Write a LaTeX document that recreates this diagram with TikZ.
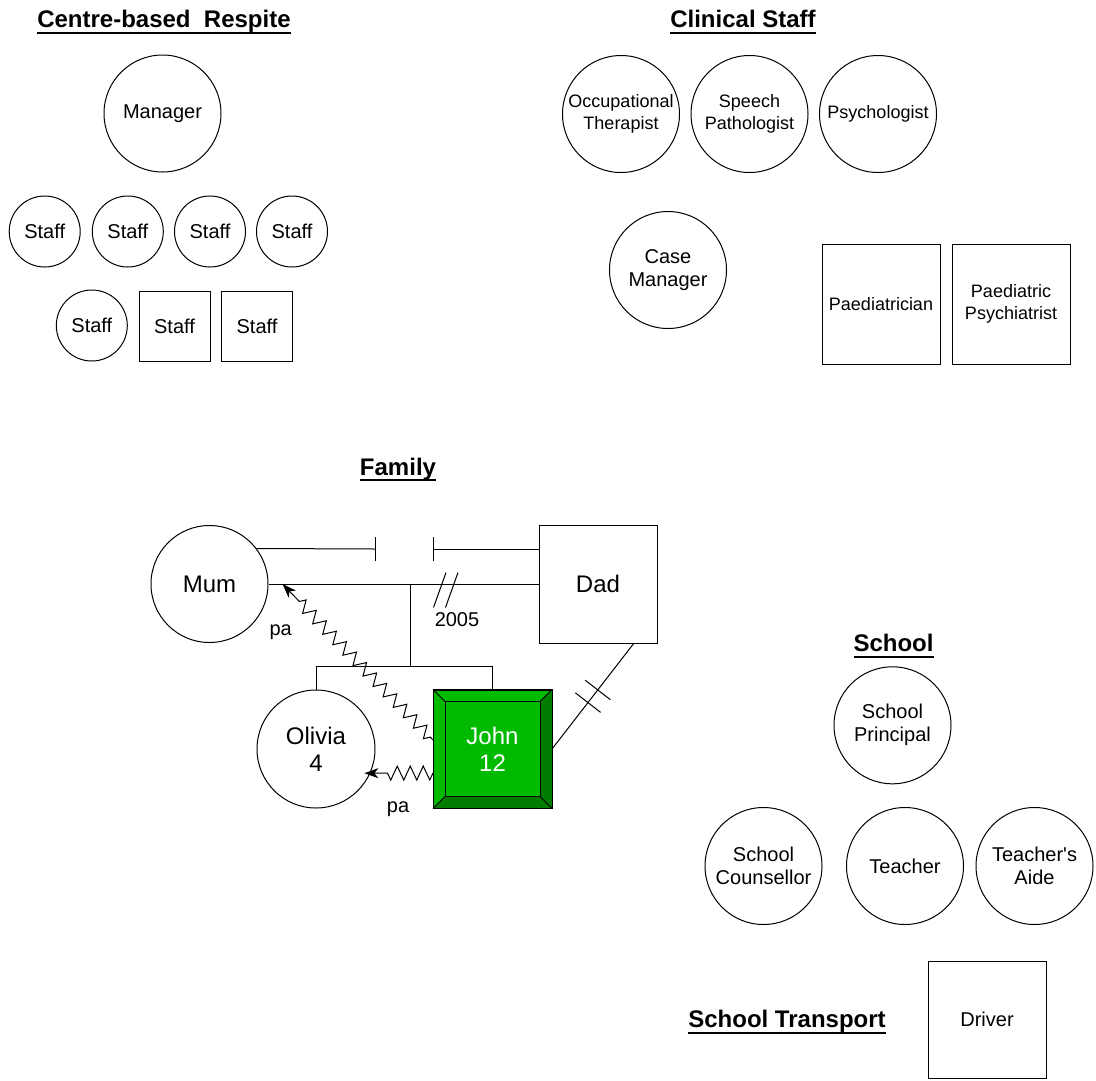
\documentclass[tikz,border=0pt]{standalone}
\usepackage{fontspec}
\setmainfont{Liberation Sans}
\usetikzlibrary{arrows.meta,calc,decorations.pathmorphing,decorations.markings}

\definecolor{johngreen}{RGB}{0,186,0}
\definecolor{johnshade}{RGB}{0,125,0}

% underlined group heading
\newcommand{\grouptitle}[1]{\setbox0\hbox{#1}\rlap{\rule[-6pt]{\wd0}{2pt}}\box0}

\begin{document}
\begin{tikzpicture}[x=1pt, y=-1pt, line width=1pt,
    every node/.style={inner sep=0pt, align=center, font=\fontsize{20}{23}\selectfont},
    grouphead/.style={anchor=base, font=\fontsize{24}{28}\selectfont\bfseries},
    role/.style={draw, circle, minimum size=117pt},
    roleb/.style={draw, minimum width=118pt, minimum height=118pt},
    staffc/.style={draw, circle, minimum size=71pt},
    staffs/.style={draw, minimum width=71pt, minimum height=70pt},
    clin/.style={font=\fontsize{18}{22}\selectfont},
    fam/.style={font=\fontsize{24}{27}\selectfont},
    abuse/.style={decorate, decoration={zigzag, segment length=14.5pt, amplitude=6pt,
        pre length=4pt, post length=22pt}, -{Stealth[length=14pt,width=10pt,inset=4pt]}},
    cutoff/.style={postaction={decorate}, decoration={markings,
        mark=at position 0.44 with {\draw (0pt,-16pt) -- (0pt,16pt);},
        mark=at position 0.56 with {\draw (0pt,-16pt) -- (0pt,16pt);}}}]
    \useasboundingbox (0,0) rectangle (1096,1080);

    % Centre-based Respite
    \node[grouphead] (respite) at (164,27.5) {\grouptitle{Centre-based\ \ Respite}};
    \node[role] (manager) at (162.5,113.5) {Manager};
    \foreach \x [count=\i] in {44.7,127.8,210,292}
      \node[staffc] (staff\i) at (\x,231.5) {Staff};
    \node[staffc] (staff5) at (91.8,325.5) {Staff};
    \node[staffs] (staff6) at (174.5,326) {Staff};
    \node[staffs] (staff7) at (257,326) {Staff};

    % Clinical Staff
    \node[grouphead] (clinical) at (743,27.5) {\grouptitle{Clinical Staff}};
    \node[role, clin] (ot) at (621,114) {Occupational\\Therapist};
    \node[role, clin] (speech) at (749.5,114) {Speech\\Pathologist};
    \node[role, clin] (psych) at (878,114) {Psychologist};
    \node[role] (casemgr) at (668,270) {Case\\Manager};
    \node[roleb, clin, minimum height=120pt] (paed) at (881,304) {Paediatrician};
    \node[roleb, clin, minimum height=120pt] (psychiatrist) at (1011,304) {Paediatric\\Psychiatrist};

    % Family
    \node[grouphead] (family) at (398,475) {\grouptitle{Family}};
    \node[role, fam] (mum) at (209.5,584) {Mum};
    \node[roleb, fam] (dad) at (598,584) {Dad};
    \node[role, fam, minimum size=118pt] (olivia) at (316,749) {Olivia\\4};
    \node[roleb, fam, fill=johngreen, text=white] (john) at (492.5,749) {John\\12};
    \fill[johnshade] (john.north east) -- (john.south east) -- (john.south west)
      -- ([shift={(12pt,12pt)}]john.south west) -- ([shift={(-12pt,12pt)}]john.south east)
      -- ([shift={(-12pt,-12pt)}]john.north east) -- cycle;
    \draw (john.north west) rectangle (john.south east);
    \draw ([shift={(12pt,-12pt)}]john.north west) rectangle ([shift={(-12pt,12pt)}]john.south east);
    \draw (john.north west) -- ++(12pt,-12pt);
    \draw (john.north east) -- ++(-12pt,-12pt);
    \draw (john.south west) -- ++(12pt,12pt);
    \draw (john.south east) -- ++(-12pt,12pt);

    % separated
    \coordinate (sepL) at (375,549);
    \coordinate (sepR) at (433,549);
    \draw (mum.37) -- (sepL);
    \draw (sepR) -- (sepR -| dad.west);
    \draw ([yshift=12pt]sepL) -- ([yshift=-12pt]sepL);
    \draw ([yshift=12pt]sepR) -- ([yshift=-12pt]sepR);

    % married, divorced 2005
    \draw (mum.east) -- (dad.west);
    \coordinate (div) at (445.5,590);
    \draw ([shift={(-12pt,-17.5pt)}]div) -- ++(12.5pt,35pt);
    \draw ([shift={(0pt,-17.5pt)}]div) -- ++(12.5pt,35pt);
    \node (year) at (457,620) {2005};

    % children
    \coordinate (kids) at (410,666);
    \draw (kids) -- (kids |- mum.east);
    \draw (olivia.north) |- (kids) -| (john.north);

    % cut off
    \draw[cutoff] ($(dad.south east)!0.4!(dad.south)$) -- (john.east);

    % physical abuse
    \draw[abuse] ([yshift=9pt]john.west) -- ([xshift=14pt]mum.east);
    \node (pa1) at (280.7,631.7) {pa};
    \draw[abuse, decoration={segment length=13pt, amplitude=7pt, pre length=0pt, post length=23pt}]
      ([yshift=-24pt]john.west) -- ([xshift=-6pt]olivia.-24);
    \node (pa2) at (398,809) {pa};

    % School
    \node[grouphead] (school) at (893.5,651.7) {\grouptitle{School}};
    \node[role] (principal) at (892.5,725.3) {School\\Principal};
    \node[role] (counsellor) at (763.5,866) {School\\Counsellor};
    \node[role] (teacher) at (905,866) {Teacher};
    \node[role] (aide) at (1034.5,866) {Teacher\textquotesingle s\\Aide};

    % School Transport
    \node[grouphead] (transport) at (787,1027.5) {\grouptitle{School Transport}};
    \node[roleb, minimum height=117pt] (driver) at (987,1019.5) {Driver};
\end{tikzpicture}
\end{document}
